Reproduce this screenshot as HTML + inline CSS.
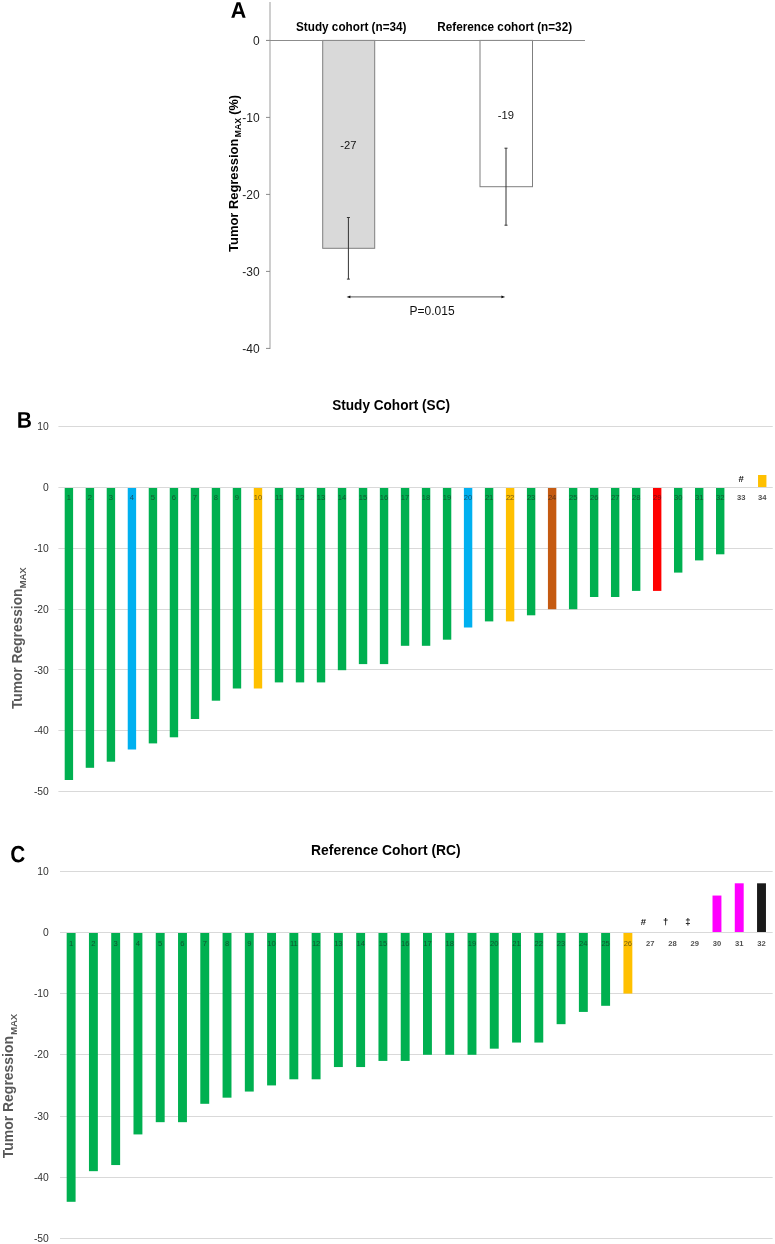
<!DOCTYPE html>
<html><head><meta charset="utf-8"><title>Tumor regression figure</title>
<style>
html,body{margin:0;padding:0;background:#fff;}
body{width:775px;height:1244px;overflow:hidden;}
svg{display:block;font-family:"Liberation Sans", sans-serif;will-change:transform;}
</style></head>
<body>
<svg width="775" height="1244" viewBox="0 0 775 1244">
<rect width="775" height="1244" fill="#fff"/>
<path d="M242.59 17.85 241.28 13.89H235.66L234.35 17.85H231.25L236.64 2.37H240.29L245.66 17.85ZM238.47 4.75 238.4 5Q238.3 5.39 238.15 5.9Q238 6.4 236.35 11.46H240.59L239.14 7.01L238.69 5.51Z" fill="#000"/>
<line x1="270" y1="2" x2="270" y2="348.9" stroke="#c6c6c6" stroke-width="1.7"/>
<line x1="266" y1="40.4" x2="270" y2="40.4" stroke="#8a8a8a" stroke-width="1"/>
<text x="259.6" y="44.6" font-size="12" text-anchor="end" fill="#222">0</text>
<line x1="266" y1="117.4" x2="270" y2="117.4" stroke="#8a8a8a" stroke-width="1"/>
<text x="259.6" y="121.60000000000001" font-size="12" text-anchor="end" fill="#222">-10</text>
<line x1="266" y1="194.4" x2="270" y2="194.4" stroke="#8a8a8a" stroke-width="1"/>
<text x="259.6" y="198.6" font-size="12" text-anchor="end" fill="#222">-20</text>
<line x1="266" y1="271.4" x2="270" y2="271.4" stroke="#8a8a8a" stroke-width="1"/>
<text x="259.6" y="275.59999999999997" font-size="12" text-anchor="end" fill="#222">-30</text>
<line x1="266" y1="348.4" x2="270" y2="348.4" stroke="#8a8a8a" stroke-width="1"/>
<text x="259.6" y="352.59999999999997" font-size="12" text-anchor="end" fill="#222">-40</text>
<rect x="322.7" y="40.4" width="52" height="207.9" fill="#d9d9d9" stroke="#7f7f7f" stroke-width="1"/>
<rect x="480" y="40.4" width="52.5" height="146.3" fill="#fff" stroke="#7f7f7f" stroke-width="1"/>
<line x1="266" y1="40.5" x2="585" y2="40.5" stroke="#8c8c8c" stroke-width="1"/>
<line x1="348.4" y1="217.5" x2="348.4" y2="279.1" stroke="#333" stroke-width="1"/>
<line x1="346.9" y1="217.5" x2="349.9" y2="217.5" stroke="#333" stroke-width="1"/>
<line x1="346.9" y1="279.1" x2="349.9" y2="279.1" stroke="#333" stroke-width="1"/>
<line x1="506" y1="148.2" x2="506" y2="225.20000000000002" stroke="#333" stroke-width="1"/>
<line x1="504.5" y1="148.2" x2="507.5" y2="148.2" stroke="#333" stroke-width="1"/>
<line x1="504.5" y1="225.20000000000002" x2="507.5" y2="225.20000000000002" stroke="#333" stroke-width="1"/>
<text x="348.3" y="149.3" font-size="11.2" text-anchor="middle" fill="#111">-27</text>
<text x="505.8" y="119" font-size="11.2" text-anchor="middle" fill="#111">-19</text>
<text x="296" y="31.3" font-size="12.5" font-weight="bold" fill="#000" textLength="110.5" lengthAdjust="spacingAndGlyphs">Study cohort (n=34)</text>
<text x="437.3" y="31.3" font-size="12.5" font-weight="bold" fill="#000" textLength="134.8" lengthAdjust="spacingAndGlyphs">Reference cohort (n=32)</text>
<line x1="349" y1="296.9" x2="503" y2="296.9" stroke="#777" stroke-width="1.3"/>
<path d="M346.6 296.9 L350.4 295.5 L350.4 298.3 Z" fill="#111"/>
<path d="M505.2 296.9 L501.4 295.5 L501.4 298.3 Z" fill="#111"/>
<text x="409.6" y="315.3" font-size="12" fill="#111">P=0.015</text>
<text transform="translate(237.8,251.9) rotate(-90)" font-size="13" font-weight="bold" fill="#000" textLength="113.2" lengthAdjust="spacingAndGlyphs">Tumor Regression</text>
<text transform="translate(241.1,137.3) rotate(-90)" font-size="9.3" font-weight="bold" fill="#000" textLength="19.2" lengthAdjust="spacingAndGlyphs">MAX</text>
<text transform="translate(237.8,114.8) rotate(-90)" font-size="13" font-weight="bold" fill="#000" textLength="19.7" lengthAdjust="spacingAndGlyphs">(%)</text>
<line x1="58.4" y1="791.50" x2="772.74" y2="791.50" stroke="#d9d9d9" stroke-width="1"/>
<text x="48.8" y="795.30" font-size="10.3" text-anchor="end" fill="#333">-50</text>
<line x1="58.4" y1="730.50" x2="772.74" y2="730.50" stroke="#d9d9d9" stroke-width="1"/>
<text x="48.8" y="734.40" font-size="10.3" text-anchor="end" fill="#333">-40</text>
<line x1="58.4" y1="669.50" x2="772.74" y2="669.50" stroke="#d9d9d9" stroke-width="1"/>
<text x="48.8" y="673.50" font-size="10.3" text-anchor="end" fill="#333">-30</text>
<line x1="58.4" y1="609.50" x2="772.74" y2="609.50" stroke="#d9d9d9" stroke-width="1"/>
<text x="48.8" y="612.60" font-size="10.3" text-anchor="end" fill="#333">-20</text>
<line x1="58.4" y1="548.50" x2="772.74" y2="548.50" stroke="#d9d9d9" stroke-width="1"/>
<text x="48.8" y="551.70" font-size="10.3" text-anchor="end" fill="#333">-10</text>
<line x1="58.4" y1="487.50" x2="772.74" y2="487.50" stroke="#d9d9d9" stroke-width="1"/>
<text x="48.8" y="490.80" font-size="10.3" text-anchor="end" fill="#333">0</text>
<line x1="58.4" y1="426.50" x2="772.74" y2="426.50" stroke="#d9d9d9" stroke-width="1"/>
<text x="48.8" y="429.90" font-size="10.3" text-anchor="end" fill="#333">10</text>
<rect x="64.70" y="488" width="8.40" height="292.00" fill="#00b050"/>
<text x="68.91" y="500.00" font-size="7.6" text-anchor="middle" font-weight="normal" fill="#1a1a1a" fill-opacity="0.62">1</text>
<rect x="85.71" y="488" width="8.40" height="279.80" fill="#00b050"/>
<text x="89.91" y="500.00" font-size="7.6" text-anchor="middle" font-weight="normal" fill="#1a1a1a" fill-opacity="0.62">2</text>
<rect x="106.72" y="488" width="8.40" height="273.70" fill="#00b050"/>
<text x="110.93" y="500.00" font-size="7.6" text-anchor="middle" font-weight="normal" fill="#1a1a1a" fill-opacity="0.62">3</text>
<rect x="127.73" y="488" width="8.40" height="261.50" fill="#00b0f0"/>
<text x="131.94" y="500.00" font-size="7.6" text-anchor="middle" font-weight="normal" fill="#1a1a1a" fill-opacity="0.62">4</text>
<rect x="148.74" y="488" width="8.40" height="255.40" fill="#00b050"/>
<text x="152.94" y="500.00" font-size="7.6" text-anchor="middle" font-weight="normal" fill="#1a1a1a" fill-opacity="0.62">5</text>
<rect x="169.75" y="488" width="8.40" height="249.30" fill="#00b050"/>
<text x="173.96" y="500.00" font-size="7.6" text-anchor="middle" font-weight="normal" fill="#1a1a1a" fill-opacity="0.62">6</text>
<rect x="190.76" y="488" width="8.40" height="231.00" fill="#00b050"/>
<text x="194.97" y="500.00" font-size="7.6" text-anchor="middle" font-weight="normal" fill="#1a1a1a" fill-opacity="0.62">7</text>
<rect x="211.77" y="488" width="8.40" height="212.70" fill="#00b050"/>
<text x="215.98" y="500.00" font-size="7.6" text-anchor="middle" font-weight="normal" fill="#1a1a1a" fill-opacity="0.62">8</text>
<rect x="232.78" y="488" width="8.40" height="200.50" fill="#00b050"/>
<text x="236.99" y="500.00" font-size="7.6" text-anchor="middle" font-weight="normal" fill="#1a1a1a" fill-opacity="0.62">9</text>
<rect x="253.79" y="488" width="8.40" height="200.50" fill="#ffc000"/>
<text x="258.00" y="500.00" font-size="7.6" text-anchor="middle" font-weight="normal" fill="#1a1a1a" fill-opacity="0.62">10</text>
<rect x="274.80" y="488" width="8.40" height="194.40" fill="#00b050"/>
<text x="279.00" y="500.00" font-size="7.6" text-anchor="middle" font-weight="normal" fill="#1a1a1a" fill-opacity="0.62">11</text>
<rect x="295.81" y="488" width="8.40" height="194.40" fill="#00b050"/>
<text x="300.01" y="500.00" font-size="7.6" text-anchor="middle" font-weight="normal" fill="#1a1a1a" fill-opacity="0.62">12</text>
<rect x="316.82" y="488" width="8.40" height="194.40" fill="#00b050"/>
<text x="321.02" y="500.00" font-size="7.6" text-anchor="middle" font-weight="normal" fill="#1a1a1a" fill-opacity="0.62">13</text>
<rect x="337.83" y="488" width="8.40" height="182.20" fill="#00b050"/>
<text x="342.04" y="500.00" font-size="7.6" text-anchor="middle" font-weight="normal" fill="#1a1a1a" fill-opacity="0.62">14</text>
<rect x="358.84" y="488" width="8.40" height="176.10" fill="#00b050"/>
<text x="363.05" y="500.00" font-size="7.6" text-anchor="middle" font-weight="normal" fill="#1a1a1a" fill-opacity="0.62">15</text>
<rect x="379.85" y="488" width="8.40" height="176.10" fill="#00b050"/>
<text x="384.06" y="500.00" font-size="7.6" text-anchor="middle" font-weight="normal" fill="#1a1a1a" fill-opacity="0.62">16</text>
<rect x="400.86" y="488" width="8.40" height="157.80" fill="#00b050"/>
<text x="405.06" y="500.00" font-size="7.6" text-anchor="middle" font-weight="normal" fill="#1a1a1a" fill-opacity="0.62">17</text>
<rect x="421.87" y="488" width="8.40" height="157.80" fill="#00b050"/>
<text x="426.07" y="500.00" font-size="7.6" text-anchor="middle" font-weight="normal" fill="#1a1a1a" fill-opacity="0.62">18</text>
<rect x="442.88" y="488" width="8.40" height="151.70" fill="#00b050"/>
<text x="447.08" y="500.00" font-size="7.6" text-anchor="middle" font-weight="normal" fill="#1a1a1a" fill-opacity="0.62">19</text>
<rect x="463.89" y="488" width="8.40" height="139.50" fill="#00b0f0"/>
<text x="468.10" y="500.00" font-size="7.6" text-anchor="middle" font-weight="normal" fill="#1a1a1a" fill-opacity="0.62">20</text>
<rect x="484.90" y="488" width="8.40" height="133.40" fill="#00b050"/>
<text x="489.11" y="500.00" font-size="7.6" text-anchor="middle" font-weight="normal" fill="#1a1a1a" fill-opacity="0.62">21</text>
<rect x="505.91" y="488" width="8.40" height="133.40" fill="#ffc000"/>
<text x="510.12" y="500.00" font-size="7.6" text-anchor="middle" font-weight="normal" fill="#1a1a1a" fill-opacity="0.62">22</text>
<rect x="526.92" y="488" width="8.40" height="127.30" fill="#00b050"/>
<text x="531.12" y="500.00" font-size="7.6" text-anchor="middle" font-weight="normal" fill="#1a1a1a" fill-opacity="0.62">23</text>
<rect x="547.93" y="488" width="8.40" height="121.20" fill="#c55a11"/>
<text x="552.13" y="500.00" font-size="7.6" text-anchor="middle" font-weight="normal" fill="#1a1a1a" fill-opacity="0.62">24</text>
<rect x="568.94" y="488" width="8.40" height="121.20" fill="#00b050"/>
<text x="573.14" y="500.00" font-size="7.6" text-anchor="middle" font-weight="normal" fill="#1a1a1a" fill-opacity="0.62">25</text>
<rect x="589.95" y="488" width="8.40" height="109.00" fill="#00b050"/>
<text x="594.15" y="500.00" font-size="7.6" text-anchor="middle" font-weight="normal" fill="#1a1a1a" fill-opacity="0.62">26</text>
<rect x="610.96" y="488" width="8.40" height="109.00" fill="#00b050"/>
<text x="615.16" y="500.00" font-size="7.6" text-anchor="middle" font-weight="normal" fill="#1a1a1a" fill-opacity="0.62">27</text>
<rect x="631.97" y="488" width="8.40" height="102.90" fill="#00b050"/>
<text x="636.18" y="500.00" font-size="7.6" text-anchor="middle" font-weight="normal" fill="#1a1a1a" fill-opacity="0.62">28</text>
<rect x="652.98" y="488" width="8.40" height="102.90" fill="#ff0000"/>
<text x="657.19" y="500.00" font-size="7.6" text-anchor="middle" font-weight="normal" fill="#1a1a1a" fill-opacity="0.62">29</text>
<rect x="673.99" y="488" width="8.40" height="84.60" fill="#00b050"/>
<text x="678.20" y="500.00" font-size="7.6" text-anchor="middle" font-weight="normal" fill="#1a1a1a" fill-opacity="0.62">30</text>
<rect x="695.00" y="488" width="8.40" height="72.40" fill="#00b050"/>
<text x="699.21" y="500.00" font-size="7.6" text-anchor="middle" font-weight="normal" fill="#1a1a1a" fill-opacity="0.62">31</text>
<rect x="716.01" y="488" width="8.40" height="66.30" fill="#00b050"/>
<text x="720.22" y="500.00" font-size="7.6" text-anchor="middle" font-weight="normal" fill="#1a1a1a" fill-opacity="0.62">32</text>
<text x="741.23" y="500.00" font-size="7.6" text-anchor="middle" font-weight="bold" fill="#505050">33</text>
<text x="741.23" y="481.80" font-size="9.5" font-weight="bold" text-anchor="middle" fill="#111">#</text>
<rect x="758.03" y="475.00" width="8.40" height="12.00" fill="#ffc000"/>
<text x="762.24" y="500.00" font-size="7.6" text-anchor="middle" font-weight="bold" fill="#505050">34</text>
<path d="M30.95 423.29Q30.95 425.42 29.48 426.59Q28.02 427.75 25.42 427.75H18.25V412.13H24.81Q27.43 412.13 28.78 413.12Q30.12 414.12 30.12 416.06Q30.12 417.39 29.45 418.3Q28.77 419.22 27.39 419.54Q29.13 419.76 30.04 420.73Q30.95 421.7 30.95 423.29ZM27.11 416.5Q27.11 415.45 26.49 415Q25.88 414.56 24.67 414.56H21.25V418.43H24.69Q25.96 418.43 26.53 417.95Q27.11 417.46 27.11 416.5ZM27.94 423.04Q27.94 420.84 25.05 420.84H21.25V425.32H25.16Q26.61 425.32 27.27 424.75Q27.94 424.18 27.94 423.04Z" fill="#000"/>
<text x="332.2" y="410" font-size="14.5" font-weight="bold" fill="#000" textLength="117.8" lengthAdjust="spacingAndGlyphs">Study Cohort (SC)</text>
<text transform="translate(22.3,709.1) rotate(-90)" font-size="15" font-weight="bold" fill="#595959" textLength="120.6" lengthAdjust="spacingAndGlyphs">Tumor Regression</text>
<text transform="translate(26.0,588.6) rotate(-90)" font-size="9.3" font-weight="bold" fill="#595959" textLength="21.4" lengthAdjust="spacingAndGlyphs">MAX</text>
<line x1="60.0" y1="1238.50" x2="772.64" y2="1238.50" stroke="#d9d9d9" stroke-width="1"/>
<text x="48.8" y="1242.15" font-size="10.3" text-anchor="end" fill="#333">-50</text>
<line x1="60.0" y1="1177.50" x2="772.64" y2="1177.50" stroke="#d9d9d9" stroke-width="1"/>
<text x="48.8" y="1180.90" font-size="10.3" text-anchor="end" fill="#333">-40</text>
<line x1="60.0" y1="1116.50" x2="772.64" y2="1116.50" stroke="#d9d9d9" stroke-width="1"/>
<text x="48.8" y="1119.65" font-size="10.3" text-anchor="end" fill="#333">-30</text>
<line x1="60.0" y1="1054.50" x2="772.64" y2="1054.50" stroke="#d9d9d9" stroke-width="1"/>
<text x="48.8" y="1058.40" font-size="10.3" text-anchor="end" fill="#333">-20</text>
<line x1="60.0" y1="993.50" x2="772.64" y2="993.50" stroke="#d9d9d9" stroke-width="1"/>
<text x="48.8" y="997.15" font-size="10.3" text-anchor="end" fill="#333">-10</text>
<line x1="60.0" y1="932.50" x2="772.64" y2="932.50" stroke="#d9d9d9" stroke-width="1"/>
<text x="48.8" y="935.90" font-size="10.3" text-anchor="end" fill="#333">0</text>
<line x1="60.0" y1="871.50" x2="772.64" y2="871.50" stroke="#d9d9d9" stroke-width="1"/>
<text x="48.8" y="874.65" font-size="10.3" text-anchor="end" fill="#333">10</text>
<rect x="66.68" y="933" width="8.91" height="268.80" fill="#00b050"/>
<text x="71.14" y="945.70" font-size="7.6" text-anchor="middle" font-weight="normal" fill="#1a1a1a" fill-opacity="0.62">1</text>
<rect x="88.95" y="933" width="8.91" height="238.17" fill="#00b050"/>
<text x="93.41" y="945.70" font-size="7.6" text-anchor="middle" font-weight="normal" fill="#1a1a1a" fill-opacity="0.62">2</text>
<rect x="111.22" y="933" width="8.91" height="232.05" fill="#00b050"/>
<text x="115.67" y="945.70" font-size="7.6" text-anchor="middle" font-weight="normal" fill="#1a1a1a" fill-opacity="0.62">3</text>
<rect x="133.49" y="933" width="8.91" height="201.42" fill="#00b050"/>
<text x="137.94" y="945.70" font-size="7.6" text-anchor="middle" font-weight="normal" fill="#1a1a1a" fill-opacity="0.62">4</text>
<rect x="155.76" y="933" width="8.91" height="189.17" fill="#00b050"/>
<text x="160.22" y="945.70" font-size="7.6" text-anchor="middle" font-weight="normal" fill="#1a1a1a" fill-opacity="0.62">5</text>
<rect x="178.03" y="933" width="8.91" height="189.17" fill="#00b050"/>
<text x="182.49" y="945.70" font-size="7.6" text-anchor="middle" font-weight="normal" fill="#1a1a1a" fill-opacity="0.62">6</text>
<rect x="200.30" y="933" width="8.91" height="170.80" fill="#00b050"/>
<text x="204.75" y="945.70" font-size="7.6" text-anchor="middle" font-weight="normal" fill="#1a1a1a" fill-opacity="0.62">7</text>
<rect x="222.57" y="933" width="8.91" height="164.67" fill="#00b050"/>
<text x="227.03" y="945.70" font-size="7.6" text-anchor="middle" font-weight="normal" fill="#1a1a1a" fill-opacity="0.62">8</text>
<rect x="244.84" y="933" width="8.91" height="158.55" fill="#00b050"/>
<text x="249.29" y="945.70" font-size="7.6" text-anchor="middle" font-weight="normal" fill="#1a1a1a" fill-opacity="0.62">9</text>
<rect x="267.11" y="933" width="8.91" height="152.42" fill="#00b050"/>
<text x="271.56" y="945.70" font-size="7.6" text-anchor="middle" font-weight="normal" fill="#1a1a1a" fill-opacity="0.62">10</text>
<rect x="289.38" y="933" width="8.91" height="146.30" fill="#00b050"/>
<text x="293.84" y="945.70" font-size="7.6" text-anchor="middle" font-weight="normal" fill="#1a1a1a" fill-opacity="0.62">11</text>
<rect x="311.65" y="933" width="8.91" height="146.30" fill="#00b050"/>
<text x="316.11" y="945.70" font-size="7.6" text-anchor="middle" font-weight="normal" fill="#1a1a1a" fill-opacity="0.62">12</text>
<rect x="333.92" y="933" width="8.91" height="134.05" fill="#00b050"/>
<text x="338.38" y="945.70" font-size="7.6" text-anchor="middle" font-weight="normal" fill="#1a1a1a" fill-opacity="0.62">13</text>
<rect x="356.19" y="933" width="8.91" height="134.05" fill="#00b050"/>
<text x="360.64" y="945.70" font-size="7.6" text-anchor="middle" font-weight="normal" fill="#1a1a1a" fill-opacity="0.62">14</text>
<rect x="378.46" y="933" width="8.91" height="127.92" fill="#00b050"/>
<text x="382.92" y="945.70" font-size="7.6" text-anchor="middle" font-weight="normal" fill="#1a1a1a" fill-opacity="0.62">15</text>
<rect x="400.73" y="933" width="8.91" height="127.92" fill="#00b050"/>
<text x="405.19" y="945.70" font-size="7.6" text-anchor="middle" font-weight="normal" fill="#1a1a1a" fill-opacity="0.62">16</text>
<rect x="423.00" y="933" width="8.91" height="121.80" fill="#00b050"/>
<text x="427.45" y="945.70" font-size="7.6" text-anchor="middle" font-weight="normal" fill="#1a1a1a" fill-opacity="0.62">17</text>
<rect x="445.27" y="933" width="8.91" height="121.80" fill="#00b050"/>
<text x="449.72" y="945.70" font-size="7.6" text-anchor="middle" font-weight="normal" fill="#1a1a1a" fill-opacity="0.62">18</text>
<rect x="467.54" y="933" width="8.91" height="121.80" fill="#00b050"/>
<text x="472.00" y="945.70" font-size="7.6" text-anchor="middle" font-weight="normal" fill="#1a1a1a" fill-opacity="0.62">19</text>
<rect x="489.81" y="933" width="8.91" height="115.67" fill="#00b050"/>
<text x="494.26" y="945.70" font-size="7.6" text-anchor="middle" font-weight="normal" fill="#1a1a1a" fill-opacity="0.62">20</text>
<rect x="512.08" y="933" width="8.91" height="109.55" fill="#00b050"/>
<text x="516.53" y="945.70" font-size="7.6" text-anchor="middle" font-weight="normal" fill="#1a1a1a" fill-opacity="0.62">21</text>
<rect x="534.35" y="933" width="8.91" height="109.55" fill="#00b050"/>
<text x="538.81" y="945.70" font-size="7.6" text-anchor="middle" font-weight="normal" fill="#1a1a1a" fill-opacity="0.62">22</text>
<rect x="556.62" y="933" width="8.91" height="91.17" fill="#00b050"/>
<text x="561.08" y="945.70" font-size="7.6" text-anchor="middle" font-weight="normal" fill="#1a1a1a" fill-opacity="0.62">23</text>
<rect x="578.89" y="933" width="8.91" height="78.92" fill="#00b050"/>
<text x="583.35" y="945.70" font-size="7.6" text-anchor="middle" font-weight="normal" fill="#1a1a1a" fill-opacity="0.62">24</text>
<rect x="601.16" y="933" width="8.91" height="72.80" fill="#00b050"/>
<text x="605.62" y="945.70" font-size="7.6" text-anchor="middle" font-weight="normal" fill="#1a1a1a" fill-opacity="0.62">25</text>
<rect x="623.43" y="933" width="8.91" height="60.55" fill="#ffc000"/>
<text x="627.88" y="945.70" font-size="7.6" text-anchor="middle" font-weight="normal" fill="#1a1a1a" fill-opacity="0.62">26</text>
<text x="650.15" y="945.70" font-size="7.6" text-anchor="middle" font-weight="bold" fill="#505050">27</text>
<text x="643.45" y="925.40" font-size="9.5" font-weight="bold" text-anchor="middle" fill="#111">#</text>
<text x="672.42" y="945.70" font-size="7.6" text-anchor="middle" font-weight="bold" fill="#505050">28</text>
<text x="665.72" y="924.80" font-size="9.5" font-weight="bold" text-anchor="middle" fill="#111">†</text>
<text x="694.69" y="945.70" font-size="7.6" text-anchor="middle" font-weight="bold" fill="#505050">29</text>
<text x="687.99" y="924.80" font-size="9.5" font-weight="bold" text-anchor="middle" fill="#111">‡</text>
<rect x="712.51" y="895.55" width="8.91" height="36.45" fill="#ff00ff"/>
<text x="716.97" y="945.70" font-size="7.6" text-anchor="middle" font-weight="bold" fill="#505050">30</text>
<rect x="734.78" y="883.30" width="8.91" height="48.70" fill="#ff00ff"/>
<text x="739.24" y="945.70" font-size="7.6" text-anchor="middle" font-weight="bold" fill="#505050">31</text>
<rect x="757.05" y="883.30" width="8.91" height="48.70" fill="#1a1a1a"/>
<text x="761.50" y="945.70" font-size="7.6" text-anchor="middle" font-weight="bold" fill="#505050">32</text>
<path d="M18.34 859.84Q21.02 859.84 22.07 856.76L24.65 857.88Q23.81 860.22 22.2 861.36Q20.59 862.5 18.34 862.5Q14.93 862.5 13.07 860.29Q11.2 858.08 11.2 854.11Q11.2 850.13 13 848Q14.8 845.86 18.21 845.86Q20.7 845.86 22.27 847Q23.83 848.14 24.47 850.36L21.86 851.17Q21.52 849.96 20.56 849.24Q19.59 848.52 18.27 848.52Q16.26 848.52 15.22 849.95Q14.19 851.37 14.19 854.11Q14.19 856.9 15.25 858.37Q16.32 859.84 18.34 859.84Z" fill="#000"/>
<text x="311.1" y="855" font-size="14.5" font-weight="bold" fill="#000" textLength="149.6" lengthAdjust="spacingAndGlyphs">Reference Cohort (RC)</text>
<text transform="translate(13.0,1158.2) rotate(-90)" font-size="15" font-weight="bold" fill="#595959" textLength="122.2" lengthAdjust="spacingAndGlyphs">Tumor Regression</text>
<text transform="translate(16.6,1035.1) rotate(-90)" font-size="9.3" font-weight="bold" fill="#595959" textLength="21.4" lengthAdjust="spacingAndGlyphs">MAX</text>
</svg>
</body></html>
